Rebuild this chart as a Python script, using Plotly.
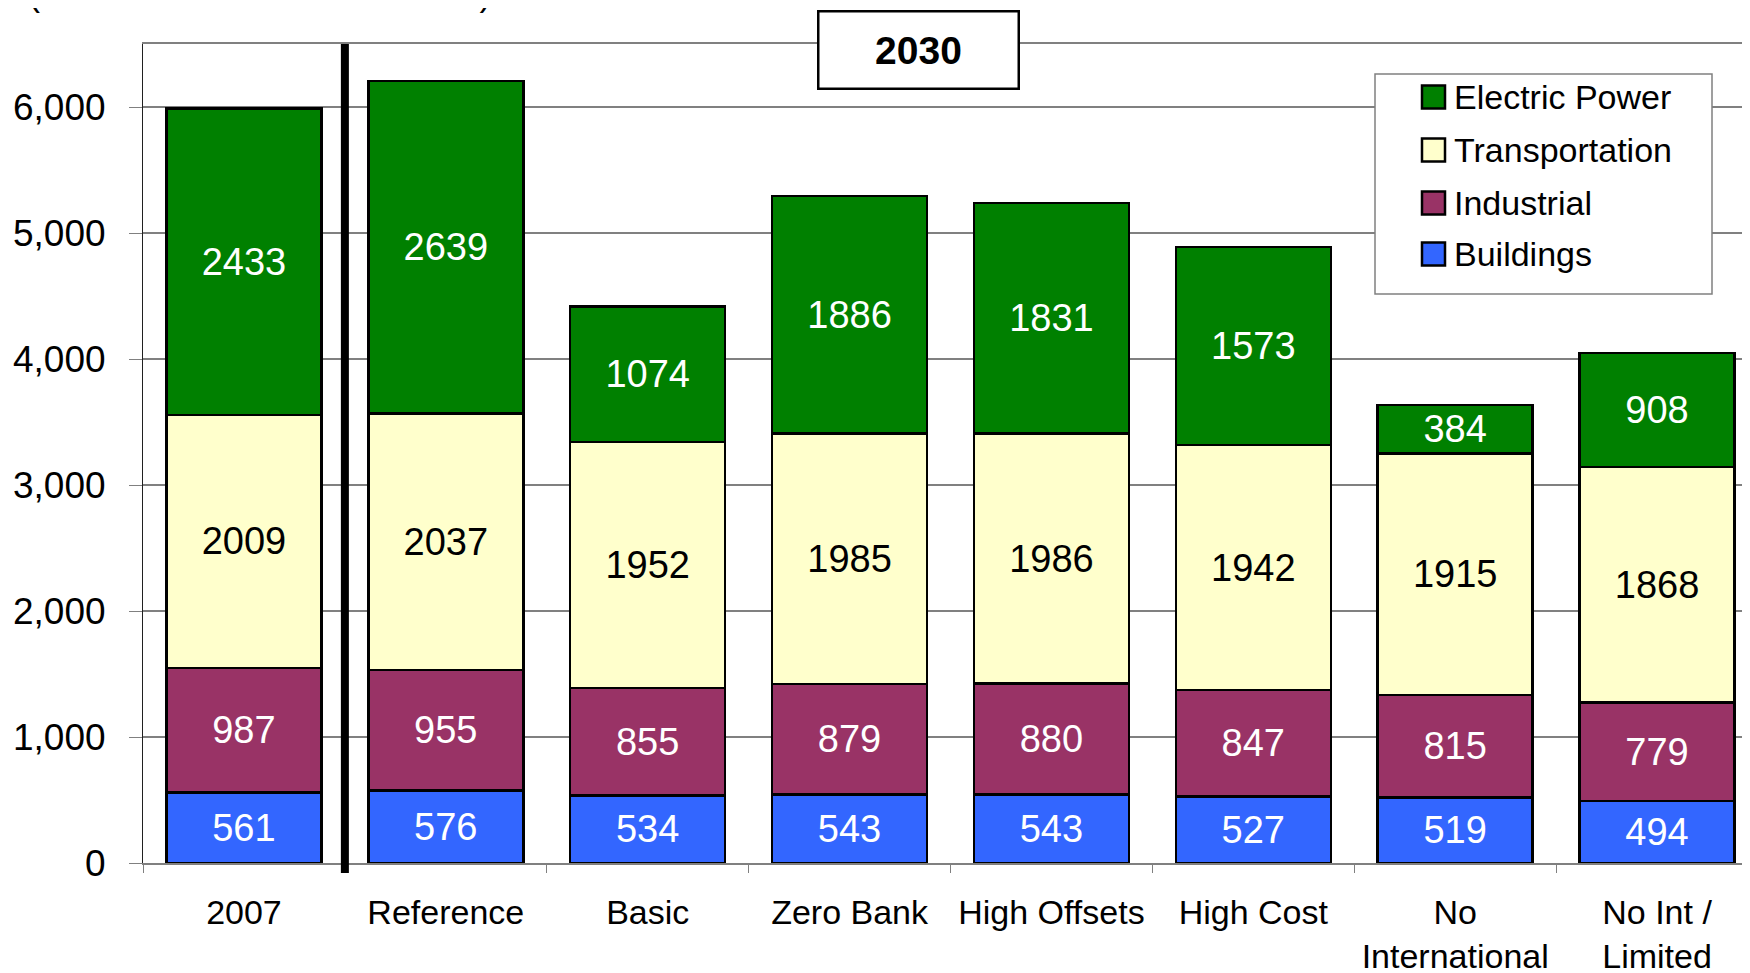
import plotly.graph_objects as go

scenarios = ["2007", "Reference", "Basic", "Zero Bank", "High Offsets", "High Cost",
             "No<br>International", "No Int /<br>Limited"]
buildings = [561, 576, 534, 543, 543, 527, 519, 494]
industrial = [987, 955, 855, 879, 880, 847, 815, 779]
transportation = [2009, 2037, 1952, 1985, 1986, 1942, 1915, 1868]
electric_power = [2433, 2639, 1074, 1886, 1831, 1573, 384, 908]

sectors = ["Buildings", "Industrial", "Transportation", "Electric Power"]
values = [buildings, industrial, transportation, electric_power]
colors = ["#3366FF", "#993366", "#FFFFCC", "#008000"]
label_colors = ["white", "white", "black", "white"]

FONT = "Liberation Sans, Arial, sans-serif"
W, H = 1750, 973
OFF = 8  # page body margin
L, R, T, B = 135, 0, 36, 118


def px_x(p):
    # page pixel -> paper x
    return (p - OFF - L) / (W - L - R)


def px_y(p):
    # page pixel -> paper y
    return (H - B - (p - OFF)) / (H - T - B)


fig = go.Figure()
for name, vals, col, tcol in zip(sectors, values, colors, label_colors):
    fig.add_trace(go.Bar(
        x=scenarios, y=vals, name=name, text=vals,
        marker=dict(color=col, line=dict(color="black", width=2.5)),
        textposition="inside", insidetextanchor="middle", textangle=0,
        constraintext="none",
        textfont=dict(family=FONT, size=38, color=tcol),
        showlegend=False,
    ))

# divider between 2007 and the 2030 scenarios
fig.add_shape(type="line", xref="x", yref="paper", x0=0.5, x1=0.5,
              y0=px_y(873), y1=px_y(44), line=dict(color="black", width=8), layer="above")

# legend box
fig.add_shape(type="rect", xref="paper", yref="paper",
              x0=px_x(1375), x1=px_x(1712), y0=px_y(294), y1=px_y(74),
              fillcolor="white", line=dict(color="#808080", width=1.5), layer="above")
legend_y = [97, 150, 203, 254]
for i, (name, col) in enumerate(zip(sectors[::-1], colors[::-1])):
    cy = legend_y[i]
    fig.add_shape(type="rect", xref="paper", yref="paper",
                  x0=px_x(1422), x1=px_x(1445), y0=px_y(cy + 11.5), y1=px_y(cy - 11.5),
                  fillcolor=col, line=dict(color="black", width=2.5), layer="above")
    fig.add_annotation(xref="paper", yref="paper", x=px_x(1452), y=px_y(cy),
                       xanchor="left", yanchor="middle", showarrow=False, text=name,
                       font=dict(family=FONT, size=34, color="black"))

# 2030 label box
fig.add_annotation(xref="paper", yref="paper", x=px_x(918), y=px_y(50),
                   xanchor="center", yanchor="middle", showarrow=False, text="<b>2030</b>",
                   font=dict(family=FONT, size=39, color="black"),
                   bgcolor="white", bordercolor="black", borderwidth=2.5, borderpad=2,
                   width=194, height=71)

# units line, mostly cut off at the top of the page
fig.add_annotation(xref="paper", yref="paper", x=px_x(26), y=px_y(15),
                   xanchor="left", yanchor="bottom", showarrow=False,
                   text="(Million Metric Tons of CO2e)",
                   font=dict(family=FONT, size=36, color="black"))

fig.update_layout(
    width=W, height=H, barmode="stack", bargap=0.2325,
    margin=dict(l=L, r=R, t=T, b=B),
    plot_bgcolor="white", paper_bgcolor="white",
    font=dict(family=FONT, size=34, color="black"),
)
fig.update_xaxes(range=[-0.5, 7.5], showline=True, linecolor="#808080", linewidth=1.5,
                 mirror=True, ticks="outside", tickson="boundaries", ticklen=8,
                 tickcolor="#808080", tickfont=dict(family=FONT, size=34, color="black"),
                 ticklabelstandoff=18, showgrid=False)
fig.update_yaxes(range=[0, 6500], dtick=1000, tickformat=",", showgrid=True,
                 gridcolor="#808080", gridwidth=1.5, zeroline=False, showline=True,
                 linecolor="#202020", linewidth=1, ticks="outside", ticklen=13,
                 tickcolor="#808080", tickfont=dict(family=FONT, size=37, color="black"),
                 ticklabelstandoff=16)

fig.write_html("out.html")
